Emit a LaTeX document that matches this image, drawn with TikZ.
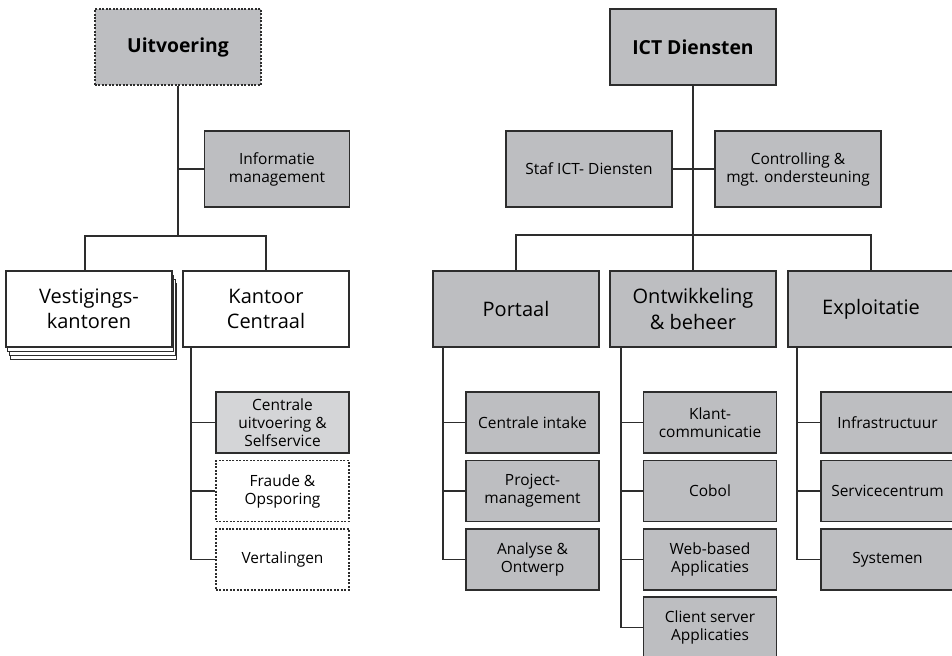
\documentclass[tikz,border=0pt]{standalone}
\usepackage{fontspec}
\setmainfont{Open Sans}
\definecolor{boxgray}{RGB}{189,190,193}
\definecolor{palegray}{RGB}{212,213,215}
\definecolor{edgegray}{RGB}{45,45,45}
\begin{document}
\begin{tikzpicture}[x=0.75pt,y=-0.75pt,
    box/.style={draw=edgegray, line width=0.8pt, align=center, inner sep=0pt},
    bigbox/.style={box, fill=boxgray, minimum width=124.5pt, minimum height=57pt,
        font=\fontsize{15}{19}\selectfont},
    midbox/.style={box, fill=boxgray, minimum width=124.5pt, minimum height=57pt,
        font=\fontsize{11.6}{13.5}\selectfont},
    subbox/.style={box, fill=boxgray, minimum width=99.75pt, minimum height=45.75pt,
        font=\fontsize{11.6}{13.5}\selectfont},
    blank/.style={fill=white},
    dots/.style={dash pattern=on 1.5pt off 1.1pt},
    link/.style={draw=edgegray, line width=0.8pt}]

    \useasboundingbox (0,0) rectangle (952,656);

    % Uitvoering
    \coordinate (Up) at (178,47);
    \coordinate (Ip) at (277,169);
    \coordinate (Vp) at (89,309);
    \coordinate (Kp) at (266,309);
    \coordinate (ubar) at (178,236);
    \coordinate (kt) at (191,0);

    \node[bigbox, dots, font=\fontsize{14.5}{19}\selectfont] (U) at (Up) {\textbf{Uitvoering}};
    \node[midbox, minimum width=108.75pt] (I) at (Ip) {Informatie\\management};
    \foreach \k in {3,2,1}
        \node[bigbox, blank] (V\k) at ({89+1.6*\k},{309+4.3*\k}) {};
    \node[bigbox, blank] (V) at (Vp) {Vestigings-\\kantoren};
    \node[bigbox, blank] (K) at (Kp) {Kantoor\\Centraal};
    \node[subbox, fill=palegray] (C1) at (282.5,422.5) {Centrale\\uitvoering \&\\Selfservice};
    \node[subbox, blank, dots] (C2) at (282.5,491) {Fraude \&\\Opsporing};
    \node[subbox, blank, dots] (C3) at (282.5,559.5) {Vertalingen};

    \draw[link] (U) -- (ubar);
    \draw[link] (U |- I) -- (I);
    \draw[link] ([xshift=-3pt]V.north) |- (ubar) -| (K.north);
    \draw[link] (kt |- K.south) |- (C3);
    \foreach \c in {C1,C2}
        \draw[link] (kt |- \c) -- (\c);

    % ICT Diensten
    \coordinate (Tp) at (693,47);
    \coordinate (Sp) at (589,169);
    \coordinate (Cp) at (798,169);
    \coordinate (rbar) at (693,235);
    \coordinate (pt) at (443,0);
    \coordinate (ot) at (621,0);
    \coordinate (et) at (797,0);

    \node[bigbox, font=\fontsize{14.5}{19}\selectfont] (T) at (Tp) {\textbf{ICT Diensten}};
    \node[midbox] (S) at (Sp) {Staf ICT- Diensten};
    \node[midbox] (Cr) at (Cp) {Controlling \&\\mgt. ondersteuning};
    \node[bigbox] (P) at (516,309) {Portaal};
    \node[bigbox] (O) at (693,309) {Ontwikkeling\\\& beheer};
    \node[bigbox] (E) at (871,309) {Exploitatie};

    \node[subbox] (P1) at (532.5,422.5) {Centrale intake};
    \node[subbox] (P2) at (532.5,491) {Project-\\management};
    \node[subbox] (P3) at (532.5,559.5) {Analyse \&\\Ontwerp};

    \node[subbox] (O1) at (710,422.5) {Klant-\\communicatie};
    \node[subbox] (O2) at (710,491) {Cobol};
    \node[subbox] (O3) at (710,559.5) {Web-based\\Applicaties};
    \node[subbox] (O4) at (710,627.5) {Client server\\Applicaties};

    \node[subbox] (E1) at (887.5,422.5) {Infrastructuur};
    \node[subbox] (E2) at (887.5,491) {Servicecentrum};
    \node[subbox] (E3) at (887.5,559.5) {Systemen};

    \draw[link] (T) -- (rbar);
    \draw[link] (S) -- (Cr);
    \draw[link] (P.north) |- (rbar) -| (E.north);
    \draw[link] (rbar) -- (O);

    \draw[link] (pt |- P.south) |- (P3);
    \foreach \c in {P1,P2}
        \draw[link] (pt |- \c) -- (\c);
    \draw[link] (ot |- O.south) |- (O4);
    \foreach \c in {O1,O2,O3}
        \draw[link] (ot |- \c) -- (\c);
    \draw[link] (et |- E.south) |- (E3);
    \foreach \c in {E1,E2}
        \draw[link] (et |- \c) -- (\c);

\end{tikzpicture}
\end{document}
